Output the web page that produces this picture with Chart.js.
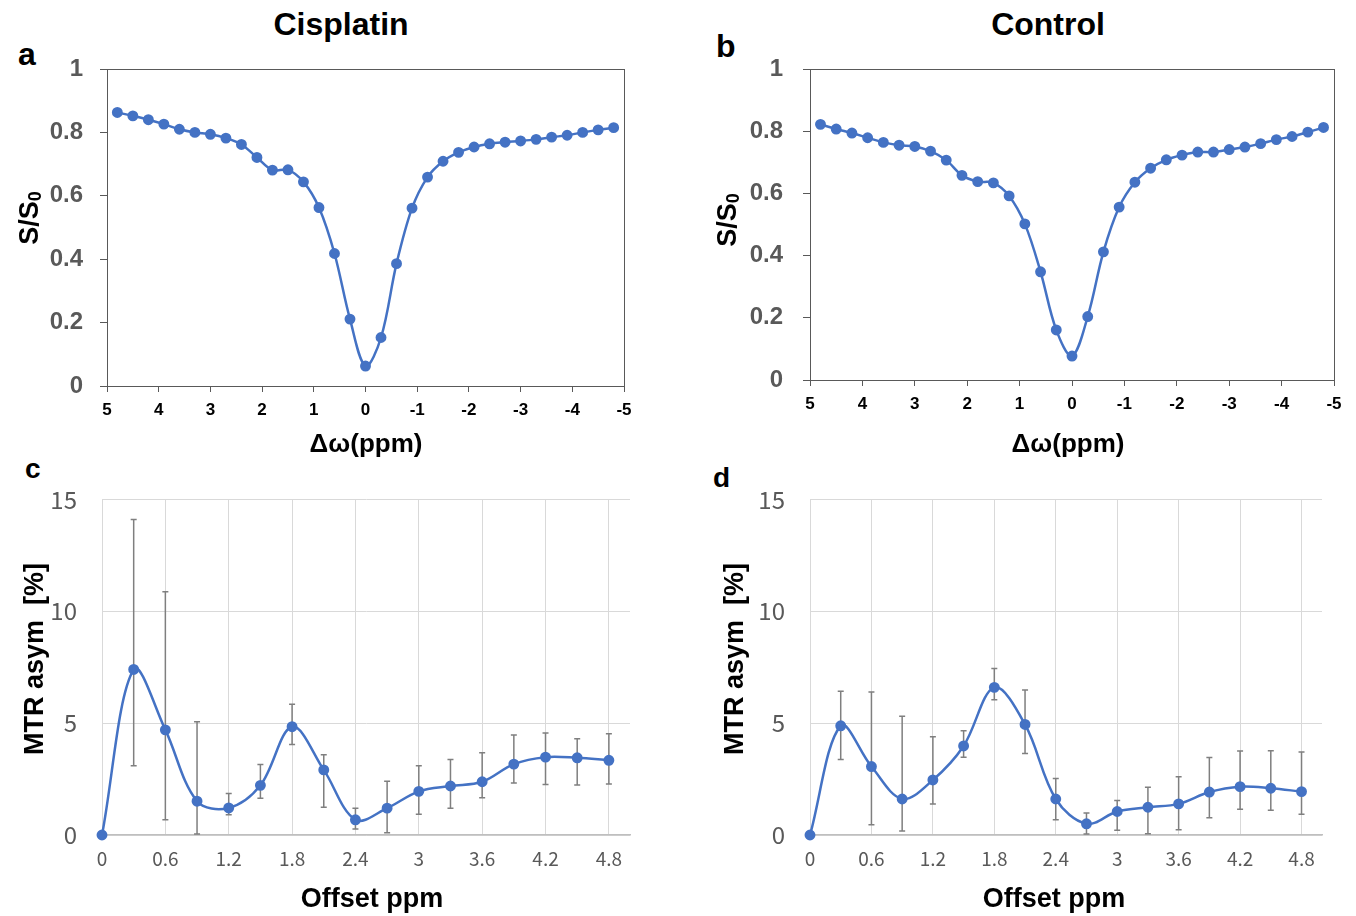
<!DOCTYPE html>
<html>
<head>
<meta charset="utf-8">
<script src="https://cdn.jsdelivr.net/npm/chart.js@4.4.1/dist/chart.umd.min.js"></script>
<style>
  html,body{margin:0;padding:0;background:#fff;}
  body{width:1356px;height:916px;position:relative;overflow:hidden;font-family:"Liberation Sans",Arial,sans-serif;}
  .box{position:absolute;}
  .head{position:absolute;font-weight:bold;font-size:32px;line-height:32px;color:#000;transform:translateX(-50%);white-space:nowrap;}
  .tag{position:absolute;font-weight:bold;line-height:1;color:#000;}
</style>
</head>
<body>
<div class="head" style="left:341px;top:8px">Cisplatin</div>
<div class="head" style="left:1048px;top:8px">Control</div>
<div class="tag" style="left:18px;top:38px;font-size:32px">a</div>
<div class="tag" style="left:716px;top:30px;font-size:32px">b</div>
<div class="tag" style="left:25px;top:455px;font-size:28px">c</div>
<div class="tag" style="left:713px;top:464px;font-size:28px">d</div>

<div class="box" style="left:0;top:0;width:660px;height:470px"><canvas id="zCis"></canvas></div>
<div class="box" style="left:680px;top:0;width:676px;height:470px"><canvas id="zCtl"></canvas></div>
<div class="box" style="left:0;top:460px;width:660px;height:456px"><canvas id="aCis"></canvas></div>
<div class="box" style="left:680px;top:460px;width:676px;height:456px"><canvas id="aCtl"></canvas></div>

<script>
// Z-spectra, offsets from +4.8 to -4.8 ppm
const zOffsets = [4.8,4.5,4.2,3.9,3.6,3.3,3.0,2.7,2.4,2.1,1.8,1.5,1.2,0.9,0.6,0.3,0,
  -0.3,-0.6,-0.9,-1.2,-1.5,-1.8,-2.1,-2.4,-2.7,-3.0,-3.3,-3.6,-3.9,-4.2,-4.5,-4.8];
const zCisplatin = [0.863,0.852,0.840,0.826,0.810,0.800,0.794,0.782,0.762,0.721,0.681,0.682,0.644,0.563,0.418,0.211,0.063,
  0.153,0.386,0.561,0.659,0.709,0.737,0.754,0.764,0.769,0.773,0.778,0.785,0.791,0.800,0.808,0.815];
const zControl = [0.822,0.807,0.794,0.779,0.764,0.755,0.751,0.736,0.707,0.658,0.638,0.634,0.592,0.502,0.348,0.161,0.077,
  0.204,0.412,0.556,0.636,0.681,0.708,0.723,0.733,0.733,0.741,0.749,0.760,0.773,0.783,0.797,0.812];

// MTR asym curves, offsets 0..4.8 ppm
const asymOffsets = [0,0.3,0.6,0.9,1.2,1.5,1.8,2.1,2.4,2.7,3.0,3.3,3.6,3.9,4.2,4.5,4.8];
const asymCisplatin = [0,7.40,4.70,1.51,1.21,2.22,4.84,2.91,0.68,1.20,1.95,2.19,2.38,3.17,3.48,3.45,3.34];
const asymCisHigh   = [null,14.10,10.87,5.06,1.86,3.15,5.84,3.59,1.20,2.40,3.09,3.37,3.68,4.47,4.56,4.30,4.53];
const asymCisLow    = [null,3.09,0.68,0.04,0.90,1.64,4.05,1.24,0.27,0.10,0.93,1.20,1.67,2.32,2.26,2.23,2.28];
const asymControl  = [0,4.88,3.06,1.61,2.46,3.98,6.60,4.94,1.61,0.50,1.05,1.24,1.39,1.92,2.16,2.09,1.94];
const asymCtlHigh  = [null,6.43,6.39,5.31,4.39,4.66,7.44,6.48,2.53,0.98,1.54,2.13,2.60,3.46,3.76,3.77,3.71];
const asymCtlLow   = [null,3.37,0.46,0.18,1.39,3.48,6.04,3.64,0.68,0.04,0.21,0.06,0.24,0.77,1.15,1.11,0.93];

const BLUE = '#4472C4';
const ARIAL = '"Liberation Sans", Arial, sans-serif';
const GOTHIC = '"Noto Sans CJK JP", "Noto Sans", sans-serif';
const fmt = v => String(Math.round(v*10)/10);

function series(xs, ys){
  return {
    data: xs.map((x,i)=>({x, y: ys[i]})),
    borderColor: BLUE, backgroundColor: BLUE,
    borderWidth: 2.5, pointRadius: 4.2, pointHoverRadius: 4.2,
    tension: 0.35, clip: false
  };
}

// frame round plot area (a, b)
const frame = {
  id: 'frame',
  afterDraw(chart){
    const {ctx, chartArea: ca} = chart;
    ctx.save();
    ctx.strokeStyle = '#595959'; ctx.lineWidth = 1;
    ctx.strokeRect(Math.round(ca.left)+0.5, Math.round(ca.top)+0.5, Math.round(ca.width), Math.round(ca.height));
    ctx.restore();
  }
};

function errBars(xs, hi, lo){
  return {
    id: 'errBars',
    beforeDatasetsDraw(chart){
      const {ctx, scales:{x, y}} = chart;
      ctx.save();
      ctx.strokeStyle = '#7f7f7f'; ctx.lineWidth = 1.5;
      xs.forEach((v,i)=>{
        if (hi[i] == null) return;
        const px = x.getPixelForValue(v), pt = y.getPixelForValue(hi[i]), pb = y.getPixelForValue(lo[i]);
        ctx.beginPath();
        ctx.moveTo(px, pt); ctx.lineTo(px, pb);
        ctx.moveTo(px-3, pt); ctx.lineTo(px+3, pt);
        ctx.moveTo(px-3, pb); ctx.lineTo(px+3, pb);
        ctx.stroke();
      });
      ctx.restore();
    }
  };
}

// axis titles (y title may carry a subscript)
function titles(t){
  return {
    id: 'titles',
    afterDraw(chart){
      const ctx = chart.ctx;
      ctx.save();
      ctx.fillStyle = '#000';
      ctx.textBaseline = 'alphabetic';
      ctx.font = `bold ${t.xSize}px ${ARIAL}`;
      ctx.textAlign = 'center';
      ctx.fillText(t.x, t.xCx, t.xBase);
      ctx.translate(t.yBase, t.yCy);
      ctx.rotate(-Math.PI/2);
      ctx.textAlign = 'left';
      ctx.font = `bold ${t.ySize}px ${ARIAL}`;
      const w1 = ctx.measureText(t.y).width;
      let w2 = 0;
      if (t.ySub) { ctx.font = `bold ${Math.round(t.ySize*0.68)}px ${ARIAL}`; w2 = ctx.measureText(t.ySub).width; }
      const x0 = -(w1 + w2)/2;
      ctx.font = `bold ${t.ySize}px ${ARIAL}`;
      ctx.fillText(t.y, x0, 0);
      if (t.ySub) {
        ctx.font = `bold ${Math.round(t.ySize*0.68)}px ${ARIAL}`;
        ctx.fillText(t.ySub, x0 + w1, 3);
      }
      ctx.restore();
    }
  };
}

function zChart(id, ys, yWidth, xHeight, pad, yPad, t){
  return new Chart(document.getElementById(id), {
    type: 'line',
    data: { datasets: [series(zOffsets, ys)] },
    plugins: [frame, titles(t)],
    options: {
      responsive: true, maintainAspectRatio: false, animation: false,
      layout: { padding: pad },
      plugins: { legend: {display:false}, tooltip: {enabled:false} },
      scales: {
        x: {
          type: 'linear', min: -5, max: 5, reverse: true,
          border: {display: false},
          grid: {drawOnChartArea: false, tickLength: 6, color: '#595959'},
          ticks: {stepSize: 1, color: '#000', padding: 8, font: {family: ARIAL, size: 17, weight: 'bold'}, callback: fmt, maxRotation: 0},
          afterFit: s => { s.height = xHeight; }
        },
        y: {
          min: 0, max: 1,
          border: {display: false},
          grid: {drawOnChartArea: false, tickLength: 7, color: '#595959'},
          ticks: {stepSize: 0.2, color: '#595959', padding: yPad, font: {family: ARIAL, size: 24, weight: 'bold'}, callback: fmt},
          afterFit: s => { s.width = yWidth; }
        }
      }
    }
  });
}

function asymChart(id, ys, hi, lo, yWidth, pad, t){
  return new Chart(document.getElementById(id), {
    type: 'line',
    data: { datasets: [series(asymOffsets, ys)] },
    plugins: [errBars(asymOffsets, hi, lo), titles(t)],
    options: {
      responsive: true, maintainAspectRatio: false, animation: false,
      layout: { padding: pad },
      plugins: { legend: {display:false}, tooltip: {enabled:false} },
      scales: {
        x: {
          type: 'linear', min: 0, max: 5,
          border: {color: '#bfbfbf', width: 1.5},
          grid: {color: '#d9d9d9', drawTicks: false},
          ticks: {stepSize: 0.6, includeBounds: false, color: '#595959', padding: 12, font: {family: GOTHIC, size: 19}, callback: fmt, maxRotation: 0, autoSkip: false},
          afterFit: s => { s.height = 81; }
        },
        y: {
          min: 0, max: 15,
          border: {color: '#d9d9d9'},
          grid: {color: '#d9d9d9', drawTicks: false},
          ticks: {stepSize: 5, color: '#595959', padding: 25, font: {family: GOTHIC, size: 24}, callback: fmt},
          afterFit: s => { s.width = yWidth; }
        }
      }
    }
  });
}

zChart('zCis', zCisplatin, 107, 84, {top: 69, right: 36, left: 0, bottom: 0}, 17,
  {x: 'Δω(ppm)', xSize: 26, xCx: 366, xBase: 452, y: 'S/S', ySub: '0', ySize: 27, yBase: 38, yCy: 218});
zChart('zCtl', zControl, 130, 90, {top: 69, right: 22, left: 0, bottom: 0}, 20,
  {x: 'Δω(ppm)', xSize: 26, xCx: 388, xBase: 452, y: 'S/S', ySub: '0', ySize: 27, yBase: 56, yCy: 220});
asymChart('aCis', asymCisplatin, asymCisHigh, asymCisLow, 102, {top: 37, right: 30, left: 0, bottom: 0},
  {x: 'Offset ppm', xSize: 27, xCx: 372, xBase: 447, y: 'MTR asym  [%]', ySize: 27, yBase: 43, yCy: 199});
asymChart('aCtl', asymControl, asymCtlHigh, asymCtlLow, 130, {top: 37, right: 34, left: 0, bottom: 0},
  {x: 'Offset ppm', xSize: 27, xCx: 374, xBase: 447, y: 'MTR asym  [%]', ySize: 27, yBase: 63, yCy: 199});
</script>
</body>
</html>
